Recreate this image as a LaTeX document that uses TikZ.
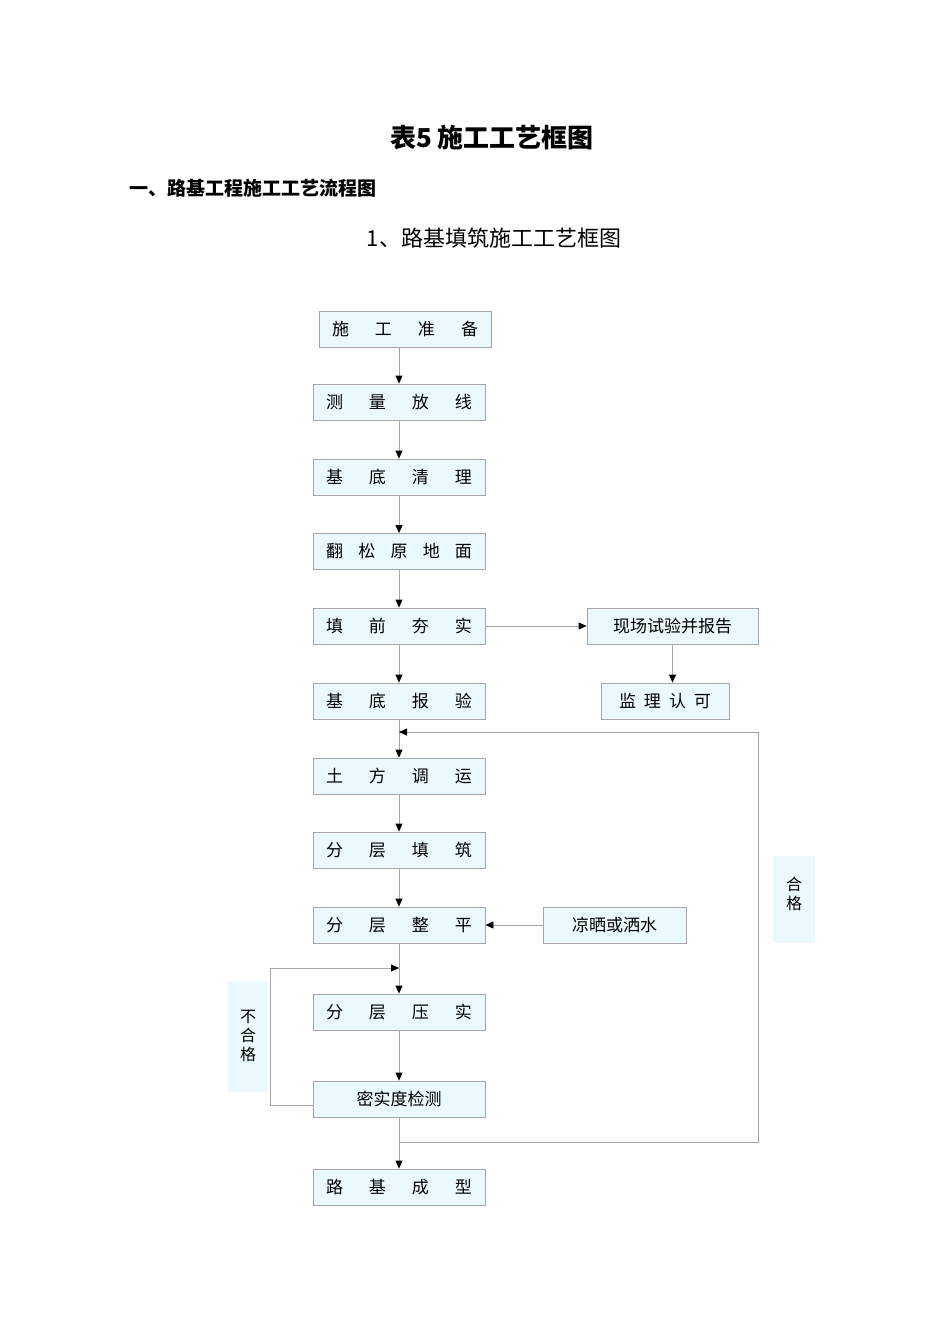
\documentclass[tikz,border=0pt]{standalone}
\usepackage{fontspec}
\newfontfamily\cjk{Noto Sans CJK SC}
\usetikzlibrary{arrows.meta}
\tikzset{
 box/.style={draw=gray!70,fill=cyan!8,line width=0.8pt,inner sep=0pt,font=\cjk\fontsize{17}{17}\selectfont},
 ln/.style={draw=gray!70,line width=0.8pt},
 ar/.style={ln,-{Triangle[black,length=8pt,width=7pt]}},
 lab/.style={fill=cyan!8,inner sep=0pt,font=\cjk\fontsize{16}{19}\selectfont,align=center}
}
\newcommand{\spr}[2]{\makebox[#1pt][s]{#2}}
\begin{document}
\begin{tikzpicture}[x=1pt,y=-1pt]
\useasboundingbox (0,0) rectangle (950,1344);
\node[font=\cjk\bfseries\fontsize{26}{26}\selectfont] (t) at (492,138) {表5 施工工艺框图};
\node[font=\cjk\bfseries\fontsize{19}{19}\selectfont,anchor=west] (h) at (126,188) {一、路基工程施工工艺流程图};
\node[font=\cjk\fontsize{22}{22}\selectfont] (s) at (494,238) {1、路基填筑施工工艺框图};
\newcommand{\bx}[6]{\node[box,minimum width=#3pt,minimum height=36pt] (#1) at (#2,#4) {#6};}
\bx{a}{405}{172}{329.5}{}{\spr{146}{施\hfill 工\hfill 准\hfill 备}}
\bx{b}{399}{172}{402}{}{\spr{146}{测\hfill 量\hfill 放\hfill 线}}
\bx{c}{399}{172}{477}{}{\spr{146}{基\hfill 底\hfill 清\hfill 理}}
\bx{d}{399}{172}{551.5}{}{\spr{146}{翻\hfill 松\hfill 原\hfill 地\hfill 面}}
\bx{e}{399}{172}{626}{}{\spr{146}{填\hfill 前\hfill 夯\hfill 实}}
\bx{f}{399}{172}{701}{}{\spr{146}{基\hfill 底\hfill 报\hfill 验}}
\bx{g}{399}{172}{776}{}{\spr{146}{土\hfill 方\hfill 调\hfill 运}}
\bx{h2}{399}{172}{850}{}{\spr{146}{分\hfill 层\hfill 填\hfill 筑}}
\bx{i}{399}{172}{925}{}{\spr{146}{分\hfill 层\hfill 整\hfill 平}}
\bx{j}{399}{172}{1012}{}{\spr{146}{分\hfill 层\hfill 压\hfill 实}}
\bx{k}{399}{172}{1099}{}{密实度检测}
\bx{l}{399}{172}{1187}{}{\spr{146}{路\hfill 基\hfill 成\hfill 型}}
\bx{m}{672.5}{171}{626}{}{现场试验并报告}
\bx{n}{665}{128}{701}{}{\spr{92}{监\hfill 理\hfill 认\hfill 可}}
\bx{o}{614.5}{143}{925}{}{凉晒或洒水}
\node[lab,minimum width=42pt,minimum height=87pt,anchor=north] (hg) at (794,856) {\raisebox{25pt}{\parbox{16pt}{合\\格}}};
\node[lab,minimum width=40pt,minimum height=111pt,anchor=north] (bhg) at (248,981) {\raisebox{23pt}{\parbox{16pt}{不\\合\\格}}};
\draw[ar] (a.south -| b) -- (b);
\draw[ar] (b) -- (c);
\draw[ar] (c) -- (d);
\draw[ar] (d) -- (e);
\draw[ar] (e) -- (f);
\draw[ar] (f) -- (g);
\draw[ar] (g) -- (h2);
\draw[ar] (h2) -- (i);
\draw[ar] (i) -- (j);
\draw[ar] (j) -- (k);
\draw[ar] (k) -- (l);
\draw[ar] (e) -- (m);
\draw[ar] (m.south) -- (m.south |- n.north);
\draw[ar] (o) -- (i);
\coordinate (r1) at (399,1142);
\coordinate (r2) at (758,732);
\draw[ar] (r1) -| (r2) -- (399,732);
\coordinate (l1) at (270,968);
\draw[ar] (k.west |- 0,1105) -| (l1) -- (399,968);
\end{tikzpicture}
\end{document}
